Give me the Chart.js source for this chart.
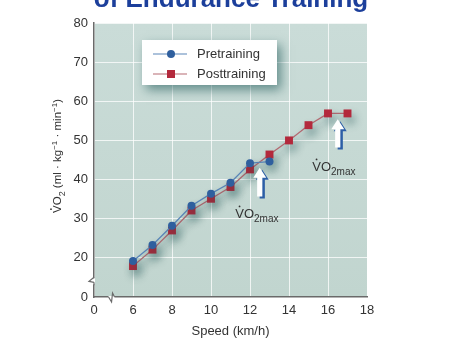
<!DOCTYPE html>
<html><head><meta charset="utf-8">
<script src="https://cdn.jsdelivr.net/npm/chart.js@4/dist/chart.umd.min.js"></script>
<style>html,body{margin:0;padding:0;background:#fff;}#wrap{position:relative;width:474px;height:343px;}</style>
</head><body><div id="wrap"><canvas id="c" width="474" height="343"></canvas></div>
<script>
// ---- data ----
const speedsPre = [6, 7, 8, 9, 10, 11, 12, 13];
const vo2Pre = [19.2, 23.3, 28.2, 33.3, 36.4, 39.2, 44.2, 44.6];
const speedsPost = [6, 7, 8, 9, 10, 11, 12, 13, 14, 15, 16, 17];
const vo2Post = [17.9, 22.1, 27.0, 32.1, 35.1, 38.1, 42.6, 46.4, 50.0, 53.9, 56.9, 56.9];
const xTickLabels = ['0', '6', '8', '10', '12', '14', '16', '18'];
const yTickLabels = ['0', '20', '30', '40', '50', '60', '70', '80'];
const seriesNames = ['Pretraining', 'Posttraining'];
const titleText = 'of Endurance Training';
const xTitle = 'Speed (km/h)';
// VO2max annotations: [speed, arrow bottom, arrow tip, label speed, label VO2]
const vo2maxPre = [12.5, 35.7, 43.0, 12.35, 31.3];
const vo2maxPost = [16.5, 48.2, 55.4, 16.3, 43.3];

// broken axes: the '0' tick is drawn one step below the first real tick
const X_ZERO_AT = 4, Y_ZERO_AT = 10;
const xTickVals = [X_ZERO_AT].concat(xTickLabels.slice(1).map(Number));
const yTickVals = [Y_ZERO_AT].concat(yTickLabels.slice(1).map(Number));

const BLUE = '#2f5f9e', BLUE_LINE = '#5a86b8';
const RED = '#b3293c', RED_LINE = '#b56a72';
const AXIS = '#6a6a6a', TXT = '#333333';
const FONT = '"Liberation Sans", Arial, sans-serif';

const bgPlugin = {
  id: 'bg',
  beforeDraw(chart) {
    const {ctx, chartArea: a} = chart;
    const g = ctx.createLinearGradient(0, a.top, 0, a.bottom);
    g.addColorStop(0, '#cadcd8');
    g.addColorStop(1, '#c1d5cf');
    ctx.save(); ctx.fillStyle = g;
    ctx.fillRect(a.left, a.top, a.right - a.left, a.bottom - a.top);
    ctx.restore();
  }
};

const shadowPlugin = {
  id: 'shadow',
  beforeDatasetsDraw(chart) {
    const ctx = chart.ctx; ctx.save();
    ctx.shadowColor = 'rgba(20,75,75,0.45)';
    ctx.shadowBlur = 9; ctx.shadowOffsetX = 3; ctx.shadowOffsetY = 6;
  },
  afterDatasetsDraw(chart) { chart.ctx.restore(); }
};

function drawArrow(ctx, x, yb, yt, color) {
  const sw = 2.6, hw = 6.5, hh = 10;
  ctx.beginPath();
  ctx.moveTo(x, yt);
  ctx.lineTo(x + hw, yt + hh);
  ctx.lineTo(x + sw, yt + hh);
  ctx.lineTo(x + sw, yb);
  ctx.lineTo(x - sw, yb);
  ctx.lineTo(x - sw, yt + hh);
  ctx.lineTo(x - hw, yt + hh);
  ctx.closePath();
  ctx.fillStyle = color; ctx.fill();
}

function drawVO2(ctx, x, y, sub, size, center) {
  const big = size + 'px ' + FONT, small = Math.round(size * 0.78) + 'px ' + FONT;
  ctx.font = big; const w1 = ctx.measureText('VO').width;
  ctx.font = small; const w2 = ctx.measureText(sub).width;
  let x0 = center ? x - (w1 + w2) / 2 : x;
  ctx.font = big; ctx.fillText('VO', x0, y);
  const vw = ctx.measureText('V').width;
  ctx.beginPath(); ctx.arc(x0 + vw / 2, y - size * 0.86, 0.9, 0, Math.PI * 2); ctx.fill();
  ctx.font = small; ctx.fillText(sub, x0 + w1, y + size * 0.3);
  return x0 + w1 + w2;
}

const overlayPlugin = {
  id: 'overlay',
  afterDraw(chart) {
    const {ctx, chartArea: a, scales: {x, y}} = chart;
    ctx.save();
    // title (cut off at top)
    ctx.fillStyle = '#1c3f9b';
    ctx.font = 'bold 26px ' + FONT;
    ctx.textAlign = 'center'; ctx.textBaseline = 'alphabetic';
    ctx.fillText(titleText, 231, 7);
    ctx.textAlign = 'left';

    // axis breaks
    ctx.strokeStyle = AXIS; ctx.lineWidth = 1.2;
    const yb = y.getPixelForValue(Y_ZERO_AT + 4);
    ctx.fillStyle = '#ffffff';
    ctx.fillRect(a.left - 3, yb - 3, 4, 6);
    ctx.beginPath();
    ctx.moveTo(a.left, yb - 4); ctx.lineTo(a.left - 5, yb); ctx.lineTo(a.left, yb + 1);
    ctx.moveTo(a.left, yb + 1); ctx.lineTo(a.left, yb + 4);
    ctx.stroke();
    const xb = x.getPixelForValue(X_ZERO_AT + 0.9);
    ctx.fillRect(xb - 3, a.bottom - 1, 6, 3);
    ctx.beginPath();
    ctx.moveTo(xb - 3, a.bottom); ctx.lineTo(xb, a.bottom + 5); ctx.lineTo(xb + 1, a.bottom - 4); ctx.lineTo(xb + 3, a.bottom);
    ctx.stroke();

    // legend
    const lx = 142, ly = 40, lw = 135, lh = 45;
    ctx.save();
    ctx.shadowColor = 'rgba(20,80,80,0.55)'; ctx.shadowBlur = 10; ctx.shadowOffsetX = 4; ctx.shadowOffsetY = 5;
    ctx.fillStyle = '#ffffff'; ctx.fillRect(lx, ly, lw, lh);
    ctx.restore();
    const rows = [[54, BLUE_LINE, BLUE, 'circle'], [74, RED_LINE, RED, 'rect']];
    rows.forEach((r, i) => {
      ctx.strokeStyle = r[1]; ctx.lineWidth = 1.2;
      ctx.beginPath(); ctx.moveTo(153, r[0]); ctx.lineTo(187, r[0]); ctx.stroke();
      ctx.fillStyle = r[2];
      if (r[3] === 'circle') { ctx.beginPath(); ctx.arc(171, r[0], 4, 0, Math.PI * 2); ctx.fill(); }
      else ctx.fillRect(167, r[0] - 4, 8, 8);
      ctx.fillStyle = TXT; ctx.font = '13px ' + FONT; ctx.textBaseline = 'middle';
      ctx.fillText(seriesNames[i], 197, r[0]);
    });
    ctx.textBaseline = 'alphabetic';

    // VO2max arrows + labels
    [vo2maxPre, vo2maxPost].forEach(v => {
      const px = x.getPixelForValue(v[0]);
      const pb = y.getPixelForValue(v[1]), pt = y.getPixelForValue(v[2]);
      drawArrow(ctx, px + 2.5, pb + 2, pt + 2, '#2c5ea6');
      drawArrow(ctx, px, pb, pt, '#ffffff');
      ctx.fillStyle = TXT;
      drawVO2(ctx, x.getPixelForValue(v[3]), y.getPixelForValue(v[4]) + 4, '2max', 13, true);
    });

    // y axis title (rotated)
    ctx.translate(57, 156); ctx.rotate(-Math.PI / 2);
    ctx.fillStyle = TXT;
    const parts = [['VO', 11.5, 0], ['2', 9, 3.5], [' (ml · kg', 11.5, 0], ['−1', 8, -4.5], [' · min', 11.5, 0], ['−1', 8, -4.5], [')', 11.5, 0]];
    let total = 0;
    parts.forEach(p => { ctx.font = p[1] + 'px ' + FONT; total += ctx.measureText(p[0]).width; });
    let cx = -total / 2;
    parts.forEach((p, i) => {
      ctx.font = p[1] + 'px ' + FONT;
      ctx.fillText(p[0], cx, 4 + p[2]);
      if (i === 0) { const vw = ctx.measureText('V').width; ctx.beginPath(); ctx.arc(cx + vw / 2, 4 - 10, 0.85, 0, Math.PI * 2); ctx.fill(); }
      cx += ctx.measureText(p[0]).width;
    });
    ctx.restore();
  }
};

new Chart(document.getElementById('c'), {
  type: 'line',
  data: {
    datasets: [
      { label: seriesNames[0], data: speedsPre.map((s, i) => ({x: s, y: vo2Pre[i]})),
        borderColor: BLUE_LINE, backgroundColor: BLUE, borderWidth: 1.3,
        pointStyle: 'circle', pointRadius: 4, pointBorderWidth: 0, pointBackgroundColor: BLUE, tension: 0 },
      { label: seriesNames[1], data: speedsPost.map((s, i) => ({x: s, y: vo2Post[i]})),
        borderColor: RED_LINE, backgroundColor: RED, borderWidth: 1.3,
        pointStyle: 'rect', pointRadius: 5.6, pointBorderWidth: 0, pointBackgroundColor: RED, tension: 0 }
    ]
  },
  options: {
    responsive: false, animation: false, devicePixelRatio: 1,
    layout: { padding: { left: 0, top: 23, right: 107, bottom: 0 } },
    plugins: { legend: { display: false }, tooltip: { enabled: false } },
    scales: {
      x: {
        type: 'linear', min: X_ZERO_AT, max: 18,
        afterBuildTicks(s) { s.ticks = xTickVals.map(v => ({value: v})); },
        afterFit(s) { s.height = 46; },
        ticks: { callback: (v) => xTickLabels[xTickVals.indexOf(v)], color: TXT, font: {family: FONT, size: 13}, padding: 6, maxRotation: 0, autoSkip: false },
        grid: { color: 'rgba(255,255,255,0.75)', lineWidth: 1, drawTicks: false },
        border: { color: AXIS, width: 1.5 },
        title: { display: true, text: xTitle, color: TXT, font: {family: FONT, size: 13}, padding: {top: 2} }
      },
      y: {
        type: 'linear', min: Y_ZERO_AT, max: 80,
        afterBuildTicks(s) { s.ticks = yTickVals.map(v => ({value: v})); },
        afterFit(s) { s.width = 94; },
        ticks: { callback: (v) => yTickLabels[yTickVals.indexOf(v)], color: TXT, font: {family: FONT, size: 13}, padding: 6, autoSkip: false },
        grid: { color: 'rgba(255,255,255,0.75)', lineWidth: 1, drawTicks: false },
        border: { color: AXIS, width: 1.5 }
      }
    }
  },
  plugins: [bgPlugin, shadowPlugin, overlayPlugin]
});
</script></body></html>
